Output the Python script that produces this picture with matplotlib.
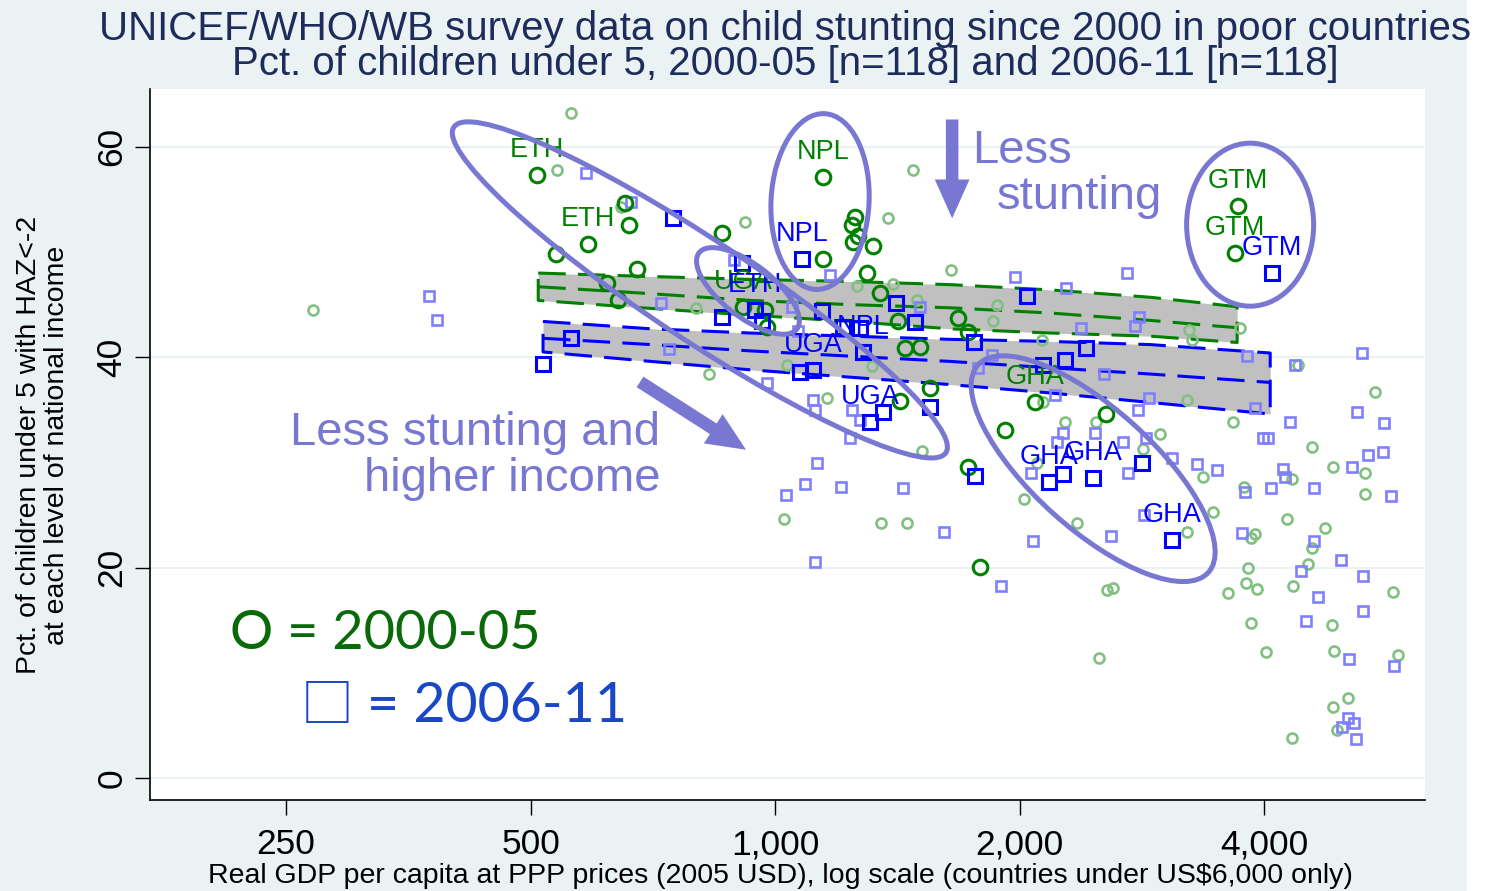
import matplotlib
matplotlib.use('Agg')
import matplotlib.pyplot as plt
from matplotlib.patches import Ellipse, FancyArrowPatch, Rectangle
from matplotlib.transforms import ScaledTranslation
from matplotlib.ticker import NullLocator

plt.rcParams['font.family'] = ['Liberation Sans', 'DejaVu Sans']

# ---- values: GDP per capita (2005 USD), % stunted ----
# 2000-05, highlighted countries (dark green circles)
dkgreen_gdp = [509, 654, 661, 588, 537, 677, 860, 1146, 1255, 1244, 1265, 1248,
               1321, 1146, 1298, 1346, 621, 641, 913, 972, 977, 1680, 1728, 1417,
               1446, 1508, 1552, 1425, 1728, 2089, 1920, 2556, 1788, 3716, 3683]
dkgreen_pct = [57.3, 54.7, 52.6, 50.8, 49.8, 48.4, 51.8, 57.1, 53.3, 52.6, 51.5, 51.0,
               50.6, 49.3, 48.0, 46.1, 47.1, 45.4, 44.8, 44.5, 42.9, 43.7, 42.4, 43.4,
               40.9, 41.0, 37.1, 35.8, 29.6, 35.7, 33.1, 34.6, 20.1, 54.4, 49.9]

# 2006-11, highlighted countries (dark blue squares)
dkblue_gdp = [749, 1079, 911, 945, 964, 860, 1143, 1213, 1273, 1283, 1409, 1487,
              2043, 1758, 1073, 1113, 1359, 1309, 1552, 1763, 2175, 2263, 2464, 2830,
              3082, 2137, 2275, 2415, 4093, 518, 561]
dkblue_pct = [53.2, 49.3, 49.0, 44.5, 43.4, 43.8, 44.4, 42.9, 42.8, 40.5, 45.2, 43.3,
              45.8, 41.4, 38.6, 38.8, 34.8, 33.8, 35.3, 28.7, 28.1, 28.9, 28.5, 29.9,
              22.6, 39.3, 39.7, 40.9, 48.0, 39.4, 41.8]

# 2000-05, other countries (light green circles)
ltgreen_gdp = [561, 539, 646, 918, 1377, 1479, 1262, 1398, 799, 1647, 1496, 1876,
               1855, 1034, 1317, 829, 1159, 1517, 2131, 3232, 3262, 3737, 2137, 3216,
               2275, 2484, 3663, 2979, 2838, 2102, 3366, 2025, 3216, 3461, 2353, 2563,
               2607, 4400, 5480, 4582, 4330, 4865, 5320, 3777, 5320, 4266, 4757, 3898,
               3855, 4582, 4530, 3820, 3800, 3919, 3612, 4340, 5760, 3855, 4851, 4020,
               4880, 5850, 5078, 4865, 4922, 4330, 1026, 1350, 1454, 2505, 270]
ltgreen_pct = [63.2, 57.8, 54.3, 52.9, 53.2, 57.8, 46.8, 47.0, 44.7, 48.3, 45.4, 45.0,
               43.4, 39.3, 39.2, 38.4, 36.1, 31.1, 41.6, 42.6, 41.6, 42.8, 35.7, 35.9,
               33.8, 33.8, 33.8, 32.7, 31.3, 29.9, 28.6, 26.5, 23.4, 25.3, 24.2, 17.9,
               18.1, 39.3, 36.7, 31.5, 28.4, 29.6, 29.0, 27.7, 27.0, 24.6, 23.8, 23.2,
               22.8, 21.9, 20.3, 20.0, 18.5, 18.0, 17.6, 18.2, 17.7, 14.7, 14.5, 12.0,
               12.1, 11.7, 7.6, 6.7, 4.6, 3.8, 24.6, 24.2, 24.2, 11.4, 44.5]

# 2006-11, other countries (light blue squares)
ltblue_gdp = [585, 665, 890, 724, 1169, 1050, 1067, 1508, 1975, 2281, 2713, 2807,
              2774, 2381, 1850, 1778, 2542, 2212, 2888, 2799, 3898, 4305, 2263, 2477,
              2862, 2681, 3989, 4040, 2224, 3082, 3308, 3501, 4222, 2066, 2720, 2845,
              2592, 2078, 1897, 3758, 3810, 5282, 4367, 5200, 5620, 5370, 5606, 4243,
              5134, 3790, 4081, 4605, 5730, 4605, 4977, 4442, 5300, 4660, 5300, 4506,
              5090, 5780, 5078, 5160, 4990, 5190, 1127, 1089, 1032, 1206, 1438, 1615,
              1120, 977, 1113, 1120, 1244, 1273, 1237, 375, 384, 740]
ltblue_pct = [57.5, 54.8, 49.2, 45.2, 47.8, 44.8, 42.5, 44.8, 47.6, 46.6, 48.0, 43.8,
              43.0, 42.8, 40.2, 39.0, 38.4, 36.4, 36.1, 35.0, 35.2, 33.8, 32.8, 32.8,
              32.3, 31.9, 32.3, 32.3, 31.9, 30.4, 29.8, 29.3, 29.4, 29.0, 29.0, 25.0,
              23.0, 22.5, 18.2, 23.3, 40.1, 40.4, 39.3, 34.8, 33.7, 30.7, 31.0, 28.6,
              29.6, 27.2, 27.6, 27.6, 26.8, 22.5, 20.7, 19.7, 19.2, 17.2, 15.9, 14.9,
              11.3, 10.6, 5.7, 5.2, 4.8, 3.7, 29.9, 27.9, 26.9, 27.7, 27.6, 23.4,
              20.5, 37.5, 35.9, 35.0, 35.0, 34.0, 32.3, 45.8, 43.5, 40.8]

# country labels
green_lab = ['ETH', 'ETH', 'NPL', 'UGA', 'GHA', 'GTM', 'GTM']
green_lab_gdp = [509, 588, 1146, 913, 2089, 3716, 3683]
green_lab_pct = [57.3, 50.8, 57.1, 44.8, 35.7, 54.4, 49.9]
blue_lab = ['NPL', 'ETH', 'NPL', 'UGA', 'UGA', 'GHA', 'GHA', 'GHA', 'GTM']
blue_lab_gdp = [1079, 945, 1283, 1113, 1309, 2175, 2464, 3082, 4093]
blue_lab_pct = [49.3, 44.5, 40.5, 38.8, 33.8, 28.1, 28.5, 22.6, 48.0]

# fitted lines with confidence bands
gband_gdp = [511, 684, 932, 1237, 1642, 2181, 2896, 3706]
gband_hi = [48.0, 47.7, 47.4, 47.2, 46.9, 46.4, 45.7, 44.8]
gband_fit = [46.7, 46.1, 45.4, 45.0, 44.7, 44.2, 43.5, 42.8]
gband_lo = [45.4, 44.7, 44.0, 43.4, 42.7, 42.3, 42.0, 41.4]
bband_gdp = [518, 703, 932, 1237, 1642, 2181, 2896, 4070]
bband_hi = [43.4, 42.7, 42.3, 42.0, 41.7, 41.5, 41.2, 40.4]
bband_fit = [41.8, 41.2, 40.6, 40.1, 39.6, 39.0, 38.4, 37.6]
bband_lo = [40.5, 39.6, 38.8, 38.1, 37.4, 36.6, 35.7, 34.6]

xticks = [250, 500, 1000, 2000, 4000]
xtick_labels = ['250', '500', '1,000', '2,000', '4,000']
yticks = [0, 20, 40, 60]

GREEN = '#008000'
LTGREEN = '#80c080'
BLUE = '#0000ff'
LTBLUE = '#8080ff'
PURPLE = '#7878d2'
BG = '#eaf2f3'

fig = plt.figure(figsize=(14.88, 8.91), dpi=100, facecolor=BG)
fig.patches.append(Rectangle((1467 / 1488, 0), 21 / 1488, 1, transform=fig.transFigure,
                             color='white', zorder=0))
ax = fig.add_axes([150 / 1488, 91 / 891, 1275 / 1488, 711 / 891])
ax.set_xscale('log')
ax.set_xlim(170, 6312)
ax.set_ylim(-2.1, 65.5)

# bands
for gdp, hi, fit, lo, col in [(gband_gdp, gband_hi, gband_fit, gband_lo, GREEN),
                              (bband_gdp, bband_hi, bband_fit, bband_lo, BLUE)]:
    ax.fill_between(gdp, lo, hi, color='#c0c0c0', lw=0, zorder=1)
    ax.plot(gdp + gdp[::-1] + [gdp[0]], hi + lo[::-1] + [hi[0]], color=col, lw=2.2,
            dashes=(9, 4), zorder=2)
    ax.plot(gdp, fit, color=col, lw=2.2, dashes=(9, 4), zorder=2)

# points
ax.plot(ltgreen_gdp, ltgreen_pct, 'o', ms=7.2, mfc='none', mec=LTGREEN, mew=1.9, zorder=3)
ax.plot(ltblue_gdp, ltblue_pct, 's', ms=7.6, mfc='none', mec=LTBLUE, mew=1.9, zorder=3)
ax.plot(dkgreen_gdp, dkgreen_pct, 'o', ms=10.5, mfc='none', mec=GREEN, mew=2.2, zorder=4)
ax.plot(dkblue_gdp, dkblue_pct, 's', ms=10, mfc='none', mec=BLUE, mew=2.2, zorder=4)

for lab, x, y in zip(green_lab, green_lab_gdp, green_lab_pct):
    ax.annotate(lab, (x, y), xytext=(0, 18), textcoords='offset points', ha='center',
                va='center', fontsize=19.5, color=GREEN, zorder=5)
for lab, x, y in zip(blue_lab, blue_lab_gdp, blue_lab_pct):
    ax.annotate(lab, (x, y), xytext=(0, 18), textcoords='offset points', ha='center',
                va='center', fontsize=19.5, color=BLUE, zorder=5)

# ellipses: centre in data units, size in inches
ellipses = [(808, 46.4, 5.9, 1.0, -33.5),   # ETH / UGA
            (926, 46.3, 1.24, 0.52, -38),   # ETH 2006-11
            (1136, 54.8, 0.98, 1.76, -3),   # NPL
            (3845, 52.6, 1.27, 1.63, 0),    # GTM
            (2464, 29.4, 3.1, 1.2, -42)]    # GHA
for cx, cy, w, h, ang in ellipses:
    tr = fig.dpi_scale_trans + ScaledTranslation(cx, cy, ax.transData)
    ax.add_patch(Ellipse((0, 0), w, h, angle=ang, transform=tr, fill=False,
                         ec=PURPLE, lw=3.6, zorder=6))

# arrows
for (x0, y0), (x1, y1) in [((1652, 62.6), (1652, 53.2)), ((682, 37.65), (921, 31.2))]:
    ax.add_patch(FancyArrowPatch((x0, y0), (x1, y1),
                                 arrowstyle='simple,head_length=28,head_width=25,tail_width=9',
                                 mutation_scale=1, shrinkA=0, shrinkB=0, color=PURPLE,
                                 lw=0, zorder=6))

ax.text(0.6447, 0.8955, 'Less', transform=ax.transAxes, fontsize=34, color=PURPLE, va='baseline')
ax.text(0.6643, 0.8319, 'stunting', transform=ax.transAxes, fontsize=34, color=PURPLE, va='baseline')
ax.text(0.400, 0.4986, 'Less stunting and', transform=ax.transAxes, fontsize=34, color=PURPLE,
        ha='right', va='baseline')
ax.text(0.400, 0.4350, 'higher income', transform=ax.transAxes, fontsize=34, color=PURPLE,
        ha='right', va='baseline')
ax.text(0.0627, 0.2119, 'O = 2000-05', transform=ax.transAxes, fontsize=39, color='#0a6a0a',
        va='baseline', family=['Lato', 'DejaVu Sans'])
ax.text(0.1184, 0.1102, '\u25a1', transform=ax.transAxes, fontsize=38, color='#1a46c8',
        va='baseline', family=['Noto Sans CJK SC', 'DejaVu Sans'])
ax.text(0.1700, 0.1102, '= 2006-11', transform=ax.transAxes, fontsize=40, color='#1a46c8',
        va='baseline', family=['Lato', 'DejaVu Sans'])

# axes styling
ax.set_xticks(xticks)
ax.set_xticklabels(xtick_labels)
ax.xaxis.set_minor_locator(NullLocator())
ax.set_yticks(yticks)
ax.set_yticklabels([str(v) for v in yticks], rotation=90, va='center')
ax.tick_params(axis='x', direction='out', length=10.5, width=1, labelsize=25.5, pad=10)
ax.tick_params(axis='y', direction='out', length=10.5, width=1, labelsize=25.5, pad=5)
ax.yaxis.grid(True, color=BG, lw=1.5)
ax.set_axisbelow(True)
for s in ['top', 'right']:
    ax.spines[s].set_visible(False)
for s in ['left', 'bottom']:
    ax.spines[s].set_linewidth(1.2)

fig.text(0.5276, 0.9551, 'UNICEF/WHO/WB survey data on child stunting since 2000 in poor countries',
         ha='center', va='baseline', fontsize=29, color='#1e2c5c')
fig.text(0.5276, 0.9158, 'Pct. of children under 5, 2000-05 [n=118] and 2006-11 [n=118]',
         ha='center', va='baseline', fontsize=29, color='#1e2c5c')
fig.text(0.5242, 0.0090,
         'Real GDP per capita at PPP prices (2005 USD), log scale (countries under US$6,000 only)',
         ha='center', va='baseline', fontsize=20.5)
fig.text(43 / 1488, 0.5006, 'Pct. of children under 5 with HAZ<-2\nat each level of national income',
         ha='center', va='center', rotation=90, fontsize=20.5, linespacing=1.1)

fig.savefig('out.png', dpi=100, facecolor=fig.get_facecolor())
